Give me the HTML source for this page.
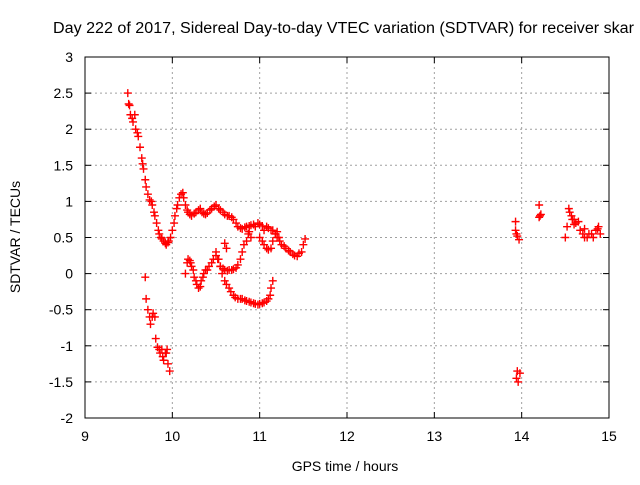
<!DOCTYPE html>
<html><head><meta charset="utf-8"><style>
body{margin:0;background:#fff;overflow:hidden}
svg text{font-family:"Liberation Sans",sans-serif;font-size:14px;fill:#000}
</style></head><body>
<svg width="640" height="480" xmlns="http://www.w3.org/2000/svg">
<rect width="640" height="480" fill="#fff"/>
<g id="grid"></g><g id="marks"></g><g id="axes"></g>
<text x="53" y="33" style="font-size:15.5px" textLength="581" lengthAdjust="spacingAndGlyphs">Day 222 of 2017, Sidereal Day-to-day VTEC variation (SDTVAR) for receiver skar</text>
<text x="345" y="471" text-anchor="middle">GPS time / hours</text>
<text x="0" y="0" text-anchor="middle" transform="translate(20,237) rotate(-90)">SDTVAR / TECUs</text>
</svg>
<script>
const xTicks=[9,10,11,12,13,14,15];
const yTicks=[3,2.5,2,1.5,1,0.5,0,-0.5,-1,-1.5,-2];
const seriesX=[9.49,9.5,9.51,9.52,9.54,9.55,9.57,9.58,9.6,9.61,9.63,9.65,9.66,9.67,9.69,9.7,9.72,9.74,9.76,9.77,9.79,9.8,9.82,9.84,9.85,9.87,9.88,9.9,9.92,9.93,9.95,9.96,9.98,10.0,10.02,10.03,10.05,10.06,10.08,10.1,10.12,10.13,10.15,10.17,10.18,10.2,10.22,10.25,10.27,10.3,10.32,10.34,10.36,10.38,10.4,10.43,10.45,10.48,10.5,10.53,10.55,10.58,10.6,10.63,10.65,10.68,10.7,10.73,10.75,10.78,10.8,10.83,10.85,10.88,10.9,10.93,10.95,10.98,11.0,11.03,11.05,11.08,11.1,11.13,11.15,11.18,11.2,11.23,11.25,11.28,11.3,11.33,11.35,11.38,11.4,11.43,11.45,11.48,11.5,11.52,
11.0,11.03,11.05,11.08,11.1,11.13,11.15,11.18,11.2,11.22,
9.69,9.7,9.72,9.74,9.75,9.77,9.78,9.8,9.81,9.83,9.85,9.86,9.88,9.89,9.9,9.92,9.93,9.94,9.95,9.97,
10.15,10.17,10.18,10.2,10.21,10.22,10.24,10.25,10.27,10.28,10.3,10.32,10.33,10.35,10.36,10.38,10.4,10.42,10.45,10.47,10.5,10.52,10.55,10.57,10.6,10.62,10.65,10.67,10.7,10.72,10.75,10.78,10.8,10.83,10.85,10.88,10.9,10.93,10.95,10.98,11.0,11.03,11.05,11.08,11.1,11.12,11.13,11.15,
10.5,10.53,10.55,10.58,10.6,10.63,10.65,10.68,10.7,10.73,10.75,10.78,10.8,10.82,10.85,10.87,10.88,10.9,10.6,10.62,
13.93,13.93,13.94,13.95,13.97,13.95,13.94,13.96,13.98,
14.2,14.21,14.22,14.2,
14.5,14.52,14.54,14.55,14.57,14.58,14.6,14.62,14.65,14.67,14.7,14.72,14.75,14.77,14.8,14.82,14.85,14.87,14.88,14.9,14.72,14.6];
const seriesY=[2.5,2.35,2.33,2.2,2.15,2.1,2.2,2.0,1.95,1.9,1.75,1.6,1.52,1.45,1.3,1.2,1.1,1.02,1.0,0.95,0.85,0.8,0.7,0.6,0.55,0.5,0.48,0.45,0.42,0.4,0.43,0.45,0.5,0.6,0.7,0.8,0.9,0.95,1.05,1.1,1.12,1.05,0.95,0.88,0.85,0.82,0.8,0.83,0.85,0.88,0.9,0.85,0.83,0.82,0.84,0.88,0.9,0.93,0.95,0.9,0.88,0.85,0.82,0.8,0.8,0.78,0.75,0.7,0.65,0.63,0.62,0.64,0.65,0.66,0.67,0.68,0.65,0.7,0.68,0.66,0.6,0.65,0.63,0.6,0.6,0.55,0.5,0.45,0.4,0.38,0.35,0.32,0.3,0.27,0.25,0.24,0.28,0.3,0.4,0.48,
0.5,0.45,0.4,0.35,0.33,0.35,0.45,0.55,0.58,0.5,
-0.05,-0.35,-0.5,-0.6,-0.7,-0.6,-0.55,-0.6,-0.9,-1.02,-1.05,-1.1,-1.05,-1.15,-1.2,-1.1,-1.1,-1.05,-1.25,-1.35,
0.0,0.15,0.2,0.18,0.15,0.1,0.05,-0.05,-0.1,-0.15,-0.2,-0.18,-0.1,-0.05,0.0,0.05,0.05,0.1,0.15,0.2,0.25,0.2,0.1,0.0,-0.1,-0.15,-0.2,-0.25,-0.3,-0.33,-0.35,-0.35,-0.35,-0.37,-0.38,-0.39,-0.4,-0.41,-0.42,-0.43,-0.42,-0.41,-0.4,-0.38,-0.35,-0.3,-0.2,-0.1,
0.3,0.2,0.1,0.07,0.05,0.04,0.05,0.05,0.06,0.08,0.12,0.2,0.3,0.4,0.45,0.55,0.58,0.5,0.42,0.35,
0.72,0.6,0.55,0.52,0.47,-1.35,-1.45,-1.5,-1.38,
0.95,0.8,0.82,0.78,
0.5,0.65,0.9,0.85,0.8,0.75,0.75,0.7,0.72,0.6,0.55,0.5,0.5,0.55,0.55,0.5,0.6,0.62,0.65,0.55,0.62,0.68];
const L=85,R=609,T=57,B=418;
const xs=v=>L+(v-9)/6*(R-L), ys=v=>B-(v+2)/5*(B-T);
const NS="http://www.w3.org/2000/svg";
const grid=document.getElementById('grid'),axes=document.getElementById('axes'),marks=document.getElementById('marks');
function mk(tag,at,parent){const e=document.createElementNS(NS,tag);for(const k in at)e.setAttribute(k,at[k]);parent.appendChild(e);return e;}
xTicks.forEach(t=>{const x=xs(t);
 if(t>9&&t<15){const g=mk('line',{x1:x,x2:x,y1:T,y2:B,stroke:'#a0a0a0','stroke-dasharray':'2,3'},grid);
 
 }
 mk('line',{x1:x,x2:x,y1:B,y2:B-6,stroke:'#000'},axes);mk('line',{x1:x,x2:x,y1:T,y2:T+6,stroke:'#000'},axes);
 const tx=mk('text',{x:x,y:B+23,'text-anchor':'middle'},axes);tx.textContent=t;
 
 });
yTicks.forEach(t=>{const y=ys(t);
 if(t>-2&&t<3){const g=mk('line',{x1:L,x2:R,y1:y,y2:y,stroke:'#a0a0a0','stroke-dasharray':'2,3'},grid);
 
 }
 mk('line',{x1:L,x2:L+6,y1:y,y2:y,stroke:'#000'},axes);mk('line',{x1:R,x2:R-6,y1:y,y2:y,stroke:'#000'},axes);
 const tx=mk('text',{x:L-12,y:y+5,'text-anchor':'end'},axes);tx.textContent=t;
 
 });
const frame=mk('rect',{x:L,y:T,width:R-L,height:B-T,fill:'none',stroke:'#000'},axes);


seriesX.forEach((v,i)=>{const x=xs(v),y=ys(seriesY[i]);
 const p=mk('path',{d:`M${x-4},${y}h8M${x},${y-4}v8`,stroke:'#f00','stroke-width':1.4,fill:'none'},marks);
 
 });
</script>
</body></html>
